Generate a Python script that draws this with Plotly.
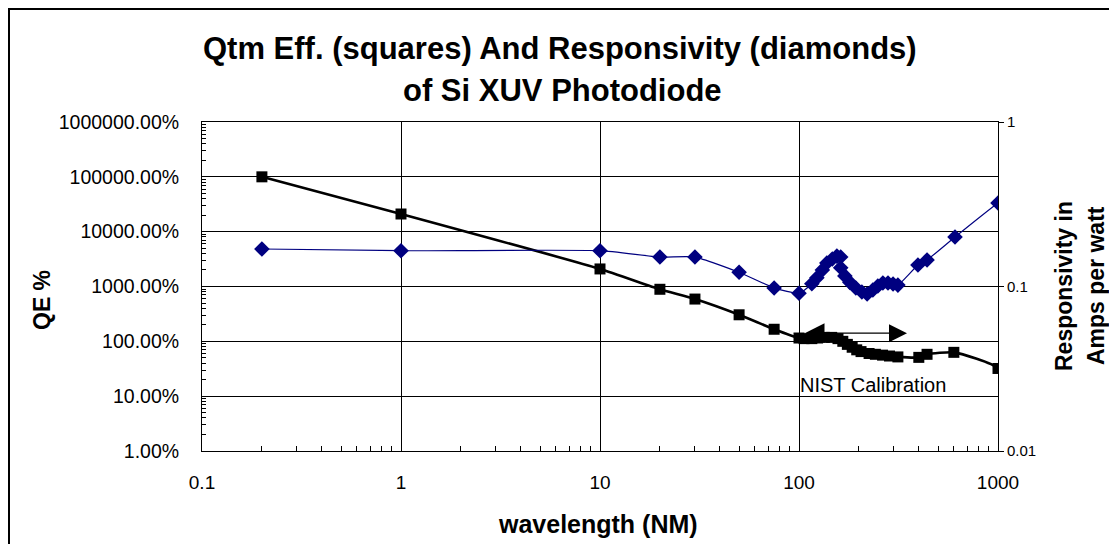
import plotly.graph_objects as go
import math

# Quantum efficiency (squares), percent, left axis
qe_wavelength_nm = [0.2, 1, 10, 20, 30, 50, 75, 100, 106, 116, 124, 134, 146, 157, 166, 175,
                    185, 195, 205, 225, 242, 263, 285, 314, 400, 440, 600, 1000, 1100]
qe_percent = [100000, 21000, 2090, 890, 590, 305, 166, 115, 112, 112, 115, 118, 118, 112, 100, 88,
              78, 70, 65, 60, 58, 56, 54, 52, 51, 58, 63, 32, 4]

# Responsivity (diamonds), A/W, right axis
resp_wavelength_nm = [0.2, 1, 10, 20, 30, 50, 75, 100, 116, 123, 131, 138, 147, 155, 162,
                      162, 170, 180, 193, 207, 220, 235, 249, 264, 280, 297, 314,
                      396, 440, 608, 1000, 1100]
resp_a_per_w = [0.169, 0.165, 0.165, 0.151, 0.151, 0.122, 0.098, 0.091, 0.104, 0.113, 0.126,
                0.139, 0.147, 0.153, 0.151, 0.130, 0.116, 0.106, 0.098, 0.0926, 0.090,
                0.0953, 0.1007, 0.105, 0.105, 0.1036, 0.102, 0.135, 0.145, 0.20, 0.322, 0.345]

title_lines = ["Qtm Eff. (squares) And Responsivity (diamonds)", "of Si XUV Photodiode"]
nist_label = "NIST Calibration"
nist_range_nm = [105, 349]
nist_arrow_level = 141
nist_label_pos = (235, 15.9)

FONT = "Liberation Sans, Arial, sans-serif"
OFF = 8  # page body margin
W, H = 1117 - OFF, 544 - OFF
L, T = 202 - OFF, 122 - OFF
PR, PB = 998 - OFF, 451 - OFF
R, B = W - PR, H - PB
PW, PH = PR - L, PB - T


def px(x):
    return (x - OFF - L) / PW


def py(y):
    return (PB - (y - OFF)) / PH


fig = go.Figure()

fig.add_trace(go.Scatter(
    x=resp_wavelength_nm, y=resp_a_per_w, yaxis="y2", mode="lines+markers",
    line=dict(color="#000080", width=1.2, shape="spline", smoothing=0.5),
    marker=dict(symbol="diamond", size=12, color="#000080"),
    showlegend=False,
))
fig.add_trace(go.Scatter(
    x=qe_wavelength_nm, y=qe_percent, mode="lines+markers",
    line=dict(color="black", width=2.6, shape="spline", smoothing=0.5),
    marker=dict(symbol="square", size=11, color="black"),
    showlegend=False,
))

axis_common = dict(
    type="log", showline=True, linecolor="black", linewidth=1,
    gridcolor="black", gridwidth=1, zeroline=False,
)

fig.update_layout(
    width=W, height=H,
    margin=dict(l=L, r=R, t=T, b=B),
    paper_bgcolor="white", plot_bgcolor="white",
    font=dict(family=FONT, color="black"),
    xaxis=dict(
        **axis_common, range=[-1, 3], dtick=1, mirror=True,
        ticks="", tickfont=dict(size=19), ticklabelstandoff=14,
        minor=dict(ticks="inside", ticklen=5, tickcolor="black", dtick="D1", showgrid=False),
    ),
    yaxis=dict(
        **axis_common, range=[0, 6], dtick=1, tickformat=".2f", ticksuffix="%",
        ticks="", tickfont=dict(size=19.5), ticklabelstandoff=18,
        minor=dict(ticks="inside", ticklen=4, tickcolor="black", dtick="D1", showgrid=False),
    ),
    yaxis2=dict(
        type="log", overlaying="y", side="right", range=[-2, 0], dtick=1,
        showline=True, linecolor="black", linewidth=1, showgrid=False, zeroline=False,
        ticks="outside", ticklen=5, tickcolor="black", tickfont=dict(size=15),
    ),
)

annotations = [
    dict(text="<b>%s</b>" % title_lines[0], x=px(560), y=py(48), xref="paper", yref="paper",
         showarrow=False, font=dict(size=31), xanchor="center", yanchor="middle"),
    dict(text="<b>%s</b>" % title_lines[1], x=px(562), y=py(90), xref="paper", yref="paper",
         showarrow=False, font=dict(size=31), xanchor="center", yanchor="middle"),
    dict(text="<b>QE %</b>", x=px(42), y=py(300), xref="paper", yref="paper", textangle=-90,
         showarrow=False, font=dict(size=23), xanchor="center", yanchor="middle"),
    dict(text="<b>Responsivity in</b>", x=px(1064), y=py(286), xref="paper", yref="paper",
         textangle=-90, showarrow=False, font=dict(size=23), xanchor="center", yanchor="middle"),
    dict(text="<b>Amps per watt</b>", x=px(1096), y=py(286), xref="paper", yref="paper",
         textangle=-90, showarrow=False, font=dict(size=23), xanchor="center", yanchor="middle"),
    dict(text="<b>wavelength (NM)</b>", x=px(598), y=py(524), xref="paper", yref="paper",
         showarrow=False, font=dict(size=25), xanchor="center", yanchor="middle"),
    dict(text=nist_label, x=math.log10(nist_label_pos[0]), y=math.log10(nist_label_pos[1]),
         xref="x", yref="y", showarrow=False, font=dict(size=20)),
    dict(text="", x=math.log10(nist_range_nm[1]), y=math.log10(nist_arrow_level),
         ax=math.log10(nist_range_nm[0]), ay=math.log10(nist_arrow_level),
         xref="x", yref="y", axref="x", ayref="y", showarrow=True,
         arrowhead=2, startarrowhead=2, arrowside="end+start", arrowsize=3.0,
         startarrowsize=3.3, arrowwidth=1.2, arrowcolor="black"),
]
fig.update_layout(annotations=annotations)

# outer chart border
fig.add_shape(type="rect", xref="paper", yref="paper",
              x0=px(9), x1=px(1135), y0=py(9), y1=py(560),
              line=dict(color="black", width=2), fillcolor="rgba(0,0,0,0)", layer="below")

fig.write_html("out.html")
